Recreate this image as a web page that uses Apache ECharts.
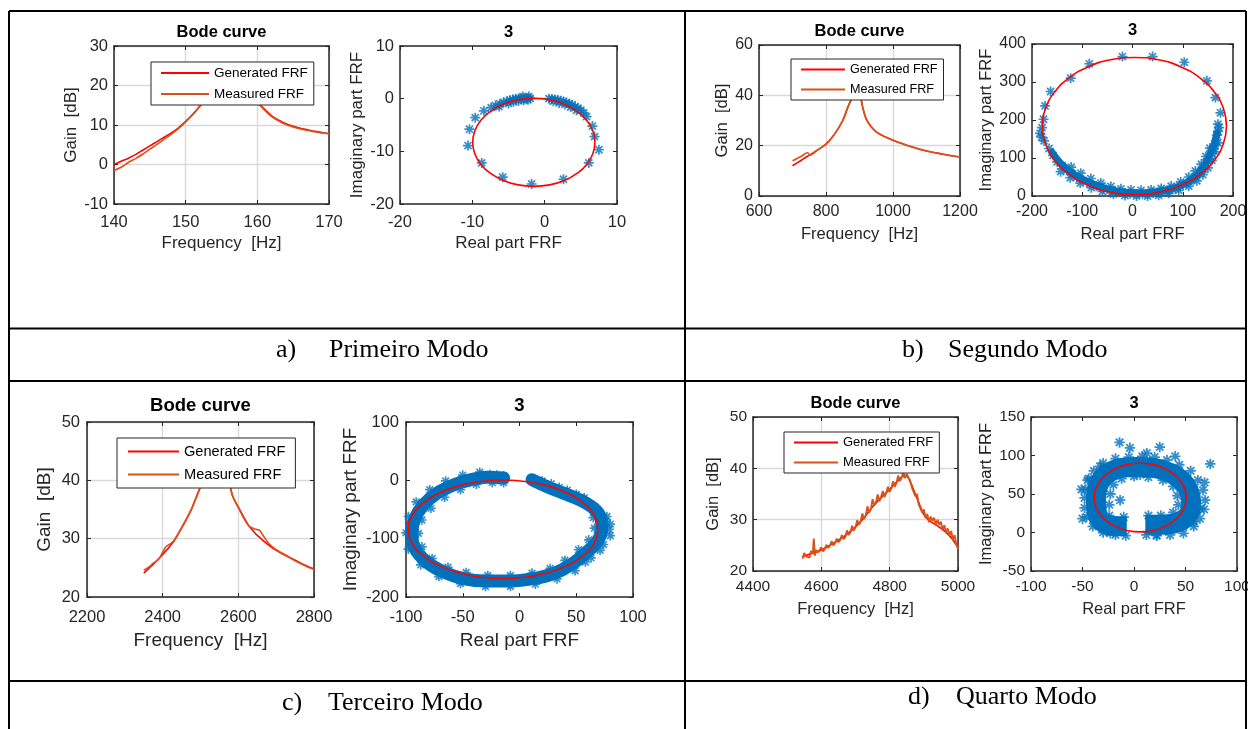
<!DOCTYPE html>
<html>
<head>
<meta charset="utf-8">
<script src="https://cdn.jsdelivr.net/npm/echarts@6.0.0/dist/echarts.min.js"></script>
<style>
html,body{margin:0;padding:0;background:#ffffff;}
#chart{width:1248px;height:729px;}
</style>
</head>
<body>
<div id="chart"></div>
<script>
// ================= DATA =================
// ---- a) Primeiro Modo ----
const aBodeXTicks = [140, 150, 160, 170];
const aBodeYTicks = [-10, 0, 10, 20, 30];
const aFreq = [140,141,142,143,144,145,146,147,148,149,150,151,152,153,154,155,156,157,158,159,160,161,162,163,164,165,166,167,168,169,170];
const aGenerated = [0.0,0.8,1.6,2.5,3.6,4.7,5.8,6.9,8.0,9.3,10.9,12.7,14.8,17.3,20.3,23.0,24.2,23.4,21.0,18.3,15.8,14.0,12.3,11.2,10.3,9.7,9.2,8.8,8.4,8.1,7.8];
const aMeasured = [-1.5,-0.7,0.5,1.5,2.6,3.9,5.1,6.4,7.7,9.1,10.8,12.7,14.8,17.3,20.3,23.0,24.2,23.4,21.0,18.3,15.7,13.8,12.1,11.0,10.1,9.5,9.0,8.6,8.3,8.0,7.8];
const aNyqXTicks = [-20, -10, 0, 10];
const aNyqYTicks = [-20, -10, 0, 10];
const aPtsRe = [-1.8,-5.8,-8.7,-10.6,-10.4,-9.6,-8.4,-7.4,-6.8,-6.2,-5.7,-5.2,-4.8,-4.4,-4.0,-3.6,-3.2,-2.8,-2.4,-2.0,-5.0,-4.3,-3.6,-2.9,-2.3,-6.3,-3.0,-2.2,
  0.6,1.0,1.4,1.8,2.2,2.6,3.0,3.4,3.8,4.2,4.6,5.0,5.4,5.8,1.2,2.0,2.8,3.6,4.4,6.6,6.9,7.5,6.1,2.6];
const aPtsIm = [-16.2,-14.9,-12.2,-8.9,-5.8,-3.6,-2.3,-1.7,-1.3,-1.0,-0.7,-0.5,-0.3,-0.15,0.0,0.05,0.1,0.1,0.1,0.05,-0.9,-0.6,-0.4,-0.3,-0.2,-1.5,0.4,0.4,
  0.0,-0.05,-0.15,-0.25,-0.4,-0.55,-0.75,-0.95,-1.2,-1.5,-1.8,-2.2,-2.7,-3.4,-0.5,-0.8,-1.1,-1.6,-2.2,-5.2,-7.2,-9.7,-12.2,-15.3];
const aFitRe = [6.95,6.66,5.82,4.47,2.73,0.69,-1.5,-3.69,-5.73,-7.47,-8.82,-9.66,-9.95,-9.66,-8.82,-7.47,-5.73,-3.69,-1.5,0.69,2.73,4.47,5.82,6.66,6.95];
const aFitIm = [-8.30,-6.14,-4.12,-2.40,-1.07,-0.23,0.05,-0.23,-1.07,-2.40,-4.12,-6.14,-8.30,-10.46,-12.48,-14.20,-15.53,-16.37,-16.65,-16.37,-15.53,-14.20,-12.48,-10.46,-8.30];

// ---- b) Segundo Modo ----
const bBodeXTicks = [600, 800, 1000, 1200];
const bBodeYTicks = [0, 20, 40, 60];
const bFreq = [700,725,745,752,775,800,825,850,865,870,876,885,891,897,903,906,910,915,921,935,951,975,1000,1050,1100,1150,1200];
const bGenerated = [12.0,14.1,15.8,16.3,18.3,20.6,24.5,30.0,35.2,36.8,38.5,46.0,52.0,48.0,41.0,37.6,35.0,32.5,30.3,27.5,25.4,23.6,22.2,19.8,17.9,16.6,15.5];
const bMeasured = [14.0,15.7,17.2,16.3,18.3,20.6,24.5,30.0,35.2,36.8,38.5,46.0,52.0,48.0,41.0,37.6,35.0,32.5,30.3,27.5,25.4,23.6,22.2,19.8,17.9,16.6,15.5];
const bNyqXTicks = [-200, -100, 0, 100, 200];
const bNyqYTicks = [0, 100, 200, 300, 400];
const bPtsRe = [-20,40,103,148,165,175,170,168,-86,-123,-163,-174,-177,-184,-176,-166,-158,-150,
  -140,-131,-120,-111,-98,-85,-72,-58,-45,-35,-25,-15,-5,8,20,30,41,55,65,74,85,95,107,118,126,134,140,147,152,157,161,164,166,
  -122,-103,-83,-63,-43,-23,-3,17,37,57,77,96,112,125,137,146,154,
  -143,-124,-104,-82,-60,-38,-15,8,30,52,72,92,112,128,140,150,158,164,170,
  170,172,-180,-181];
const bPtsIm = [367,367,352,303,259,219,189,160,348,310,275,237,202,165,145,125,107,90,
  80,68,58,50,41,33,26,20,15,12,10,8,6,5,5,6,7,10,12,15,20,26,33,42,50,59,70,86,98,112,124,134,146,
  76,60,46,34,25,19,16,15,16,20,26,37,50,66,84,104,126,
  64,48,34,22,12,5,1,0,0,2,7,15,26,40,56,74,94,116,140,
  170,180,180,155];
const bBandRe = [-160,-152,-140,-125,-105,-85,-60,-35,-10,15,40,65,88,108,125,138,148,156,163,168];
const bBandIm = [115,100,82,65,48,35,23,14,9,8,10,15,23,35,51,70,92,115,138,165];
const bFitRe = [187,180.8,162.5,133.4,95.5,51.4,4,-43.4,-87.5,-125.4,-154.5,-172.8,-179,-172.8,-154.5,-125.4,-87.5,-43.4,4,51.4,95.5,133.4,162.5,180.8,187];
const bFitIm = [184,230.7,274.3,311.6,340.3,358.4,364.5,358.4,340.3,311.6,274.3,230.7,184,137.3,93.7,56.4,27.7,9.6,3.5,9.6,27.7,56.4,93.7,137.3,184];

// ---- c) Terceiro Modo ----
const cBodeXTicks = [2200, 2400, 2600, 2800];
const cBodeYTicks = [20, 30, 40, 50];
const cFreq = [2350,2365,2375,2390,2400,2410,2420,2430,2450,2475,2490,2500,2515,2530,2545,2560,2575,2585,2600,2625,2645,2655,2665,2680,2700,2725,2750,2775,2800];
const cGenerated = [24.1,25.0,25.6,26.6,27.3,28.0,28.8,29.6,31.8,34.9,37.3,39.0,43.0,46.0,46.5,44.5,40.0,37.3,35.4,32.5,30.9,30.3,29.7,28.9,28.0,27.1,26.3,25.5,24.8];
const cMeasured = [24.6,25.2,25.8,26.5,27.7,28.7,29.1,29.7,31.9,34.9,37.3,39.0,43.0,46.0,46.5,44.5,40.0,37.3,35.3,32.4,31.6,31.5,30.6,29.2,28.1,27.2,26.2,25.4,24.7];
const cNyqXTicks = [-100, -50, 0, 50, 100];
const cNyqYTicks = [-200, -100, 0, 100];
const cBandRe = [-14,-28.8,-43.5,-58.2,-72.9,-84.7,-92.1,-95,-92.1,-81.8,-67.1,-49.4,-28.8,-8.3,12.3,30,44.7,57.9,68.2,72.6,71.1,65.3,53.5,38.8,24.1,11];
const cBandIm = [4,5.4,0.7,-7.9,-22.2,-42.3,-65.2,-91,-116.8,-139.8,-157,-168.4,-172.5,-172.5,-168.4,-159.8,-145.5,-125.4,-105.4,-82.4,-62.4,-48,-33.7,-22.2,-10.8,1];
const cPtsRe = [-14,-28.8,-43.5,-58.2,-72.9,-84.7,-92.1,-95,-92.1,-81.8,-67.1,-49.4,-28.8,-8.3,12.3,30,44.7,57.9,68.2,72.6,71.1,65.3,53.5,38.8,24.1,13.8,
  -35,-50,-65,-79,-91,-98,-100,-98,-87,-71,-52,-30,-8,14,33,49,63,74,79,77,
  -24,-38,-52,-66,-78,-86,-89,-86,-77,-63,-47,-28,-8,11,27,40,52,61,66,65,
  16,20,28,35,42,50,57,
  -14,-20,-26,-33,-14,-44,
  80,80,76,71,58];
const cPtsIm = [4,5.4,0.7,-7.9,-22.2,-42.3,-65.2,-91,-116.8,-139.8,-157,-168.4,-172.5,-172.5,-168.4,-159.8,-145.5,-125.4,-105.4,-82.4,-62.4,-48,-33.7,-22.2,-10.8,-2.2,
  14,9,-1,-16,-37,-62,-90,-118,-145,-165,-177,-182,-182,-178,-169,-155,-133,-110,-84,-62,
  -4,-7,-16,-29,-48,-68,-91,-114,-134,-149,-158,-163,-163,-159,-151,-137,-119,-102,-82,-64,
  0,-1,-6,-12,-17,-24,-30,
  8,9,10,8,-4,-3,
  -95,-75,-70,-120,-140];
const cFitRe = [69.1,66.3,57.9,44.6,27.4,7.2,-14.4,-36.0,-56.2,-73.4,-86.7,-95.1,-97.9,-95.1,-86.7,-73.4,-56.2,-36.0,-14.4,7.2,27.4,44.6,57.9,66.3,69.1];
const cFitIm = [-84,-62.1,-41.8,-24.3,-10.8,-2.4,0.5,-2.4,-10.8,-24.3,-41.8,-62.1,-84,-105.9,-126.3,-143.7,-157.3,-165.6,-168.5,-165.6,-157.3,-143.7,-126.3,-105.9,-84];

// ---- d) Quarto Modo ----
const dBodeXTicks = [4400, 4600, 4800, 5000];
const dBodeYTicks = [20, 30, 40, 50];
const dGenFreq = [4545,4575,4600,4625,4650,4675,4700,4725,4750,4775,4800,4820,4840,4850,4860,4875,4890,4900,4920,4940,4960,4980,5000];
const dGenerated = [22.8,23.5,24.1,25.0,26.0,27.2,28.6,30.4,32.5,34.3,35.9,37.3,38.4,38.4,37.4,35.0,32.5,31.0,29.6,28.8,27.8,26.5,24.6];
const dFreq = [4545,4550,4555,4560,4565,4570,4575,4578,4581,4585,4590,4595,4600,4605,4610,4615,4620,4625,4630,4635,4640,4645,4650,4655,4660,4665,4670,4675,4680,4685,4690,4695,4700,4705,4710,4715,4720,4725,4730,4735,4740,4745,4750,4755,4760,4765,4770,4775,4780,4785,4790,4795,4800,4805,4810,4815,4820,4825,4830,4835,4840,4845,4850,4855,4860,4865,4870,4875,4880,4885,4890,4895,4900,4905,4910,4915,4920,4925,4930,4935,4940,4945,4950,4955,4960,4965,4970,4975,4980,4985,4990,4995,5000];
const dMeasured = [22.4,23.5,22.9,23.1,22.6,23.9,23.3,26.3,23.0,24.1,
  23.6,23.9,24.6,23.8,24.3,25.1,24.5,24.9,25.8,25.0,
  25.4,26.3,25.6,26.0,27.0,26.2,26.6,27.9,27.0,27.5,
  28.8,27.9,28.5,29.9,29.0,29.6,31.2,30.1,30.8,32.6,
  31.4,32.0,34.0,32.8,33.4,34.9,33.6,34.5,35.6,34.4,
  35.2,36.4,35.4,36.1,37.5,36.4,37.2,38.6,37.5,38.2,
  39.3,38.1,38.9,38.2,37.6,36.3,36.6,34.6,35.0,33.0,
  32.9,31.4,32.0,30.3,31.1,29.5,30.6,29.8,30.4,28.9,
  30.0,29.0,29.6,28.0,28.9,27.5,28.3,26.9,27.8,26.1,
  27.0,25.2,24.3];
const dNyqXTicks = [-100, -50, 0, 50, 100];
const dNyqYTicks = [-50, 0, 50, 100, 150];
const dBandRe = [-7,-20,-31,-36,-37,-35,-28,-15,2,19,34,46,53,55.5,54,47,36,22,11];
const dBandIm = [8,8.5,14,26,42,60,74,83,85,84,78,68,55,40,26,16,11,10,10];
const dPtsRe = [-46,-48,-48,-47,-45,-39,-30, -18,-5,8,20,32, 44,55,62,67,69,68,64,58,48, 35,22,12,-8,-18,-30,-40,
  -24,-24,-23,-20,-12,0,14,28,38,42,43,38,26,14,-10,
  -14,-4,25,12.5,40,74,68.5,-51,-50,-33,-44,64,58,22,-23,-13.5,6,0];
const dPtsIm = [20,32,45,56,68,80,90, 96,98,99,98,94, 88,80,68,55,42,30,18,8,-1, -3,-4,-3,-4,-3,0,8,
  22,36,50,62,70,73,72,68,60,48,36,26,22,22,20,
  117,110,111,103,99,89,65,56,18,86,70,31,14,-3.5,-1,42,75,80];
const dFitRe = [50.7,49.2,44.7,37.6,28.4,17.6,6,-5.6,-16.4,-25.6,-32.7,-37.2,-38.7,-37.2,-32.7,-25.6,-16.4,-5.6,6,17.6,28.4,37.6,44.7,49.2,50.7];
const dFitIm = [45.4,57,67.7,76.9,83.7,88.5,90,88.5,83.7,76.9,67.7,57,45.4,33.8,23.1,13.9,7.1,2.3,0.8,2.3,7.1,13.9,23.1,33.8,45.4];

const legendNames = ['Generated FRF', 'Measured FRF'];
const captionLabels = ['a)', 'b)', 'c)', 'd)'];
const captionTexts = ['Primeiro Modo', 'Segundo Modo', 'Terceiro Modo', 'Quarto Modo'];

// ================= STYLE / LAYOUT =================
const FONT = '"Liberation Sans", Arial, Helvetica, sans-serif';
const SERIF = '"Liberation Serif", "Times New Roman", serif';
const AX = '#262626';
const BLUE = '#0072bd', RED = '#ff0000', ORANGE = '#d95319';
const STAR = 'path://M-1.7,-10L1.7,-10L1.7,10L-1.7,10Z M-10,-1.7L10,-1.7L10,1.7L-10,1.7Z M-5.87,-8.27L8.27,5.87L5.87,8.27L-8.27,-5.87Z M8.27,-5.87L-5.87,8.27L-8.27,5.87L5.87,-8.27Z';

const BODE_X = 'Frequency  [Hz]', BODE_Y = 'Gain  [dB]';
const NYQ_X = 'Real part FRF', NYQ_Y = 'Imaginary part FRF';

const panels = [
  {grid:[114,46,215,158], xt:aBodeXTicks, yt:aBodeYTicks, split:true,  xName:BODE_X, yName:BODE_Y, title:'Bode curve', ty:33, fs:16.5, nfs:17, tfs:16.5, lm:10, ylm:6, xg:31, yg:33},
  {grid:[400,46,217,158], xt:aNyqXTicks,  yt:aNyqYTicks,  split:false, xName:NYQ_X, yName:NYQ_Y, title:'3', ty:33, fs:16.5, nfs:17, tfs:16.5, lm:10, ylm:6, xg:31, yg:29},
  {grid:[759,45,201,151], xt:bBodeXTicks, yt:bBodeYTicks, split:true,  xName:BODE_X, yName:BODE_Y, title:'Bode curve', ty:32, fs:16, nfs:16.6, tfs:16.5, lm:8, ylm:6, xg:30, yg:28},
  {grid:[1032,44,201,152], xt:bNyqXTicks, yt:bNyqYTicks,  split:false, xName:NYQ_X, yName:NYQ_Y, title:'3', ty:31, fs:16, nfs:16.6, tfs:16.5, lm:8, ylm:6, xg:30, yg:34},
  {grid:[87,422,227,175], xt:cBodeXTicks, yt:cBodeYTicks, split:true,  xName:BODE_X, yName:BODE_Y, title:'Bode curve', ty:407, fs:16.5, nfs:19, tfs:18.5, lm:12, ylm:7, xg:34, yg:33},
  {grid:[406,422,227,175], xt:cNyqXTicks, yt:cNyqYTicks,  split:false, xName:NYQ_X, yName:NYQ_Y, title:'3', ty:407, fs:16.5, nfs:19, tfs:18.5, lm:12, ylm:7, xg:34, yg:46},
  {grid:[753,417,205,154], xt:dBodeXTicks, yt:dBodeYTicks, split:true,  xName:BODE_X, yName:BODE_Y, title:'Bode curve', ty:404, fs:15.5, nfs:16.5, tfs:16.5, lm:8, ylm:6, xg:30, yg:31},
  {grid:[1031,417,206,154], xt:dNyqXTicks, yt:dNyqYTicks, split:false, xName:NYQ_X, yName:NYQ_Y, title:'3', ty:404, fs:15.5, nfs:16.5, tfs:16.5, lm:8, ylm:6, xg:30, yg:35}
];

const grids = [], xAxes = [], yAxes = [], titles = [];
panels.forEach((p, i) => {
  grids.push({left:p.grid[0], top:p.grid[1], width:p.grid[2], height:p.grid[3], containLabel:false, outerBoundsMode:'none', show:false});
  ['x','y'].forEach(dim => {
    const t = dim === 'x' ? p.xt : p.yt;
    const base = {
      gridIndex:i, type:'value', min:t[0], max:t[t.length-1], interval:t[1]-t[0],
      axisLine:{show:true, onZero:false, lineStyle:{color:AX, width:1.5}},
      axisTick:{show:true, inside:true, length:4, lineStyle:{color:AX, width:1}},
      splitNumber: t.length - 1
    };
    const main = Object.assign({}, base, {
      position: dim === 'x' ? 'bottom' : 'left',
      axisLabel:{show:true, color:AX, fontSize:p.fs, fontFamily:FONT, margin: dim === 'x' ? p.lm : p.ylm,
                 formatter: v => String(v)},
      splitLine:{show:p.split, lineStyle:{color:'#d9d9d9', width:1.4}},
      name: dim === 'x' ? p.xName : p.yName,
      nameLocation:'middle',
      nameGap: dim === 'x' ? p.xg : p.yg,
      nameTextStyle:{color:AX, fontSize:p.nfs, fontFamily:FONT}
    });
    const mirror = Object.assign({}, base, {
      position: dim === 'x' ? 'top' : 'right',
      axisLabel:{show:false}, splitLine:{show:false}
    });
    (dim === 'x' ? xAxes : yAxes).push(main, mirror);
  });
  titles.push({
    text:p.title, left:p.grid[0] + p.grid[2]/2, top:p.ty - p.tfs/2 - 1, textAlign:'center', padding:0,
    textStyle:{fontSize:p.tfs, fontWeight:'bold', color:'#000', fontFamily:FONT}
  });
});

const zip = (xs, ys) => xs.map((v, k) => [v, ys[k]]);
const series = [];
function addBode(i, gx, gy, mx, my, smooth, mw) {
  series.push({type:'line', name:legendNames[0], xAxisIndex:2*i, yAxisIndex:2*i, data:zip(gx, gy),
    symbol:'none', smooth:0.3, color:RED, lineStyle:{color:RED, width:1.6}, z:3, animation:false});
  series.push({type:'line', name:legendNames[1], xAxisIndex:2*i, yAxisIndex:2*i, data:zip(mx, my),
    symbol:'none', smooth:smooth, color:ORANGE, lineStyle:{color:ORANGE, width:mw}, z:4, animation:false});
}
function addNyq(i, bx, by, bw, cap, px, py, size, fx, fy) {
  if (bx) {
    series.push({type:'line', name:'band'+i, xAxisIndex:2*i, yAxisIndex:2*i, data:zip(bx, by),
      symbol:'none', smooth:0.4, color:BLUE, lineStyle:{color:BLUE, width:bw, cap:cap, join:'round'}, z:2, animation:false});
  }
  series.push({type:'scatter', name:'pts'+i, xAxisIndex:2*i, yAxisIndex:2*i, data:zip(px, py),
    symbol:STAR, symbolSize:size, itemStyle:{color:BLUE}, z:3, animation:false});
  series.push({type:'line', name:'fit'+i, xAxisIndex:2*i, yAxisIndex:2*i, data:zip(fx, fy),
    symbol:'none', smooth:0.5, color:RED, lineStyle:{color:RED, width:1.6}, z:5, animation:false});
}
addBode(0, aFreq, aGenerated, aFreq, aMeasured, 0.3, 1.6);
addNyq(1, null, null, 0, 'round', aPtsRe, aPtsIm, 10, aFitRe, aFitIm);
addBode(2, bFreq, bGenerated, bFreq, bMeasured, 0.3, 1.6);
addNyq(3, bBandRe, bBandIm, 7, 'round', bPtsRe, bPtsIm, 10, bFitRe, bFitIm);
addBode(4, cFreq, cGenerated, cFreq, cMeasured, 0.3, 1.6);
addNyq(5, cBandRe, cBandIm, 13, 'round', cPtsRe, cPtsIm, 9.5, cFitRe, cFitIm);
addBode(6, dGenFreq, dGenerated, dFreq, dMeasured, false, 1.9);
addNyq(7, dBandRe, dBandIm, 20, 'butt', dPtsRe, dPtsIm, 10.5, dFitRe, dFitIm);

const legendBoxes = [
  {left:151, top:62, iw:48, ih:14, gap:7, pad:[4,6,4,9], fs:13.5},
  {left:791, top:59, iw:44, ih:14, gap:7, pad:[4,6,4,9], fs:12.6},
  {left:117, top:438, iw:51, ih:15, gap:8, pad:[6,10,6,10], fs:14.6},
  {left:784, top:432, iw:44, ih:14, gap:7, pad:[4,6,4,9], fs:13}
];
const legends = legendBoxes.map(l => ({
  data:legendNames, orient:'vertical', left:l.left, top:l.top, itemWidth:l.iw, itemHeight:l.ih, itemGap:l.gap,
  padding:l.pad, backgroundColor:'#ffffff', borderColor:AX, borderWidth:1, borderRadius:0, selectedMode:false,
  itemStyle:{opacity:0, borderWidth:0},
  textStyle:{color:'#000', fontSize:l.fs, fontFamily:FONT}, z:10
}));

// table frame + captions (decoration)
const W = 2, K = '#000';
const frame = [
  [9,11,1246,11],[9,11,9,729],[1246,11,1246,729],[685,11,685,729],
  [9,328.5,1246,328.5],[9,381,1246,381],[9,681,1246,681]
].map(s => ({type:'line', shape:{x1:s[0], y1:s[1], x2:s[2], y2:s[3]}, style:{stroke:K, lineWidth:W}, z:100, silent:true}));
const capPos = [[276,329,350],[902,948,350],[282,328,703],[908,956,697]];
const caps = [];
captionLabels.forEach((lab, k) => {
  const c = capPos[k];
  caps.push({type:'text', x:c[0], y:c[2], style:{text:lab, fontSize:26, fontFamily:SERIF, fill:'#000', align:'left', verticalAlign:'middle'}, z:100});
  caps.push({type:'text', x:c[1], y:c[2], style:{text:captionTexts[k], fontSize:26, fontFamily:SERIF, fill:'#000', align:'left', verticalAlign:'middle'}, z:100});
});

const chart = echarts.init(document.getElementById('chart'), null, {renderer:'canvas', width:1248, height:729});
chart.setOption({
  backgroundColor:'#ffffff',
  animation:false,
  title:titles,
  legend:legends,
  grid:grids,
  xAxis:xAxes,
  yAxis:yAxes,
  series:series,
  graphic:frame.concat(caps)
});
</script>
</body>
</html>
